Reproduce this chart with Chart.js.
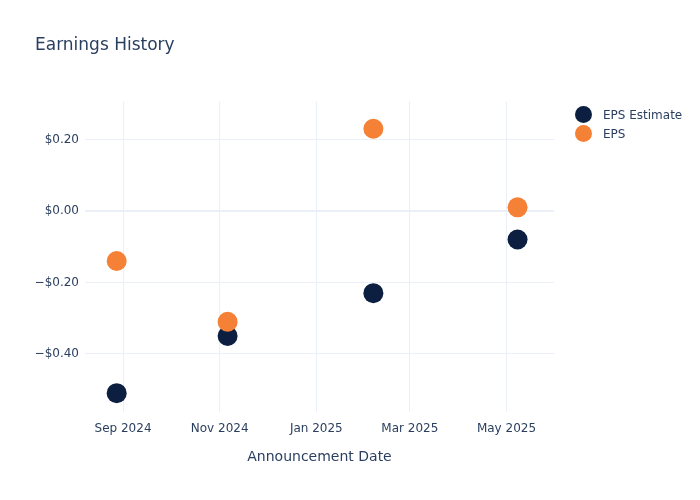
<!DOCTYPE html>
<html>
<head>
<meta charset="utf-8">
<script src="https://cdn.jsdelivr.net/npm/chart.js@4/dist/chart.umd.min.js"></script>
<style>
  body { margin: 0; background: #fff; font-family: "DejaVu Sans", sans-serif; }
  #wrap { position: relative; width: 700px; height: 500px; }
  #legend { position: absolute; left: 575px; top: 105px; font-size: 12px; color: #2a3f5f; }
  .item { display: flex; align-items: center; height: 19px; }
  .dot { width: 17px; height: 17px; border-radius: 50%; margin-right: 11px; }
</style>
</head>
<body>
<div id="wrap">
  <canvas id="grafico"></canvas>
  <div id="legend"></div>
</div>
<script>
// dados
const datas = ["2024-08-28", "2024-11-06", "2025-02-06", "2025-05-08"];
const epsEstimado = [-0.51, -0.35, -0.23, -0.08];
const epsReal = [-0.14, -0.31, 0.23, 0.01];

const datasTicks = ["2024-09-01", "2024-11-01", "2025-01-01", "2025-03-01", "2025-05-01"];
const rotulosX = ["Sep 2024", "Nov 2024", "Jan 2025", "Mar 2025", "May 2025"];
const valoresY = [0.2, 0, -0.2, -0.4];
const rotulosY = ["$0.20", "$0.00", "\u2212$0.20", "\u2212$0.40"];

const series = [
  { nome: "EPS Estimate", cor: "#0c1f40", valores: epsEstimado },
  { nome: "EPS", cor: "#f58136", valores: epsReal },
];

const corTexto = "#2a3f5f";
const corGrade = "#ebf0f8";
Chart.defaults.font.family = "'DejaVu Sans', sans-serif";
Chart.defaults.color = corTexto;

const ts = (d) => Date.parse(d + "T00:00:00Z");

// legenda em HTML
const legenda = document.getElementById("legend");
series.forEach((s) => {
  const item = document.createElement("div");
  item.classList.add("item");
  item.innerHTML = `<span class="dot" style="background:${s.cor}"></span><span>${s.nome}</span>`;
  legenda.appendChild(item);
});

const ctx = document.getElementById("grafico").getContext("2d");
new Chart(ctx, {
  type: "scatter",
  data: {
    datasets: series.map((s, i) => ({
      label: s.nome,
      data: s.valores.map((v, j) => ({ x: ts(datas[j]), y: v })),
      backgroundColor: s.cor,
      borderWidth: 0,
      pointRadius: 10,
      pointHoverRadius: 10,
      order: series.length - i,
    })),
  },
  options: {
    responsive: true,
    maintainAspectRatio: false,
    animation: false,
    layout: { padding: { left: 35, right: 146, top: 0, bottom: 0 } },
    plugins: {
      legend: { display: false },
      tooltip: { enabled: false },
      title: {
        display: true,
        text: "Earnings History",
        align: "start",
        color: corTexto,
        font: { size: 17, weight: "normal" },
        padding: { top: 35, bottom: 46 },
      },
    },
    scales: {
      x: {
        type: "linear",
        min: ts("2024-08-08"),
        max: ts("2025-05-31"),
        border: { display: false },
        grid: { color: corGrade, drawTicks: false },
        afterBuildTicks: (scale) => {
          scale.ticks = datasTicks.map((d) => ({ value: ts(d) }));
        },
        afterFit: (scale) => { scale.height = 88; },
        ticks: {
          padding: 10,
          maxRotation: 0,
          font: { size: 12 },
          callback: (v, i) => rotulosX[i],
        },
        title: {
          display: true,
          text: "Announcement Date",
          font: { size: 14 },
          padding: { top: 34, bottom: 34 },
        },
      },
      y: {
        min: -0.5627,
        max: 0.3066,
        border: { display: false },
        grid: {
          color: corGrade,
          drawTicks: false,
          lineWidth: (c) => (c.tick && c.tick.value === 0 ? 2 : 1),
        },
        afterBuildTicks: (scale) => {
          scale.ticks = valoresY.map((v) => ({ value: v }));
        },
        afterFit: (scale) => { scale.width = 50; },
        ticks: {
          padding: 6,
          font: { size: 12 },
          callback: (v, i) => rotulosY[i],
        },
      },
    },
  },
});
</script>
</body>
</html>
